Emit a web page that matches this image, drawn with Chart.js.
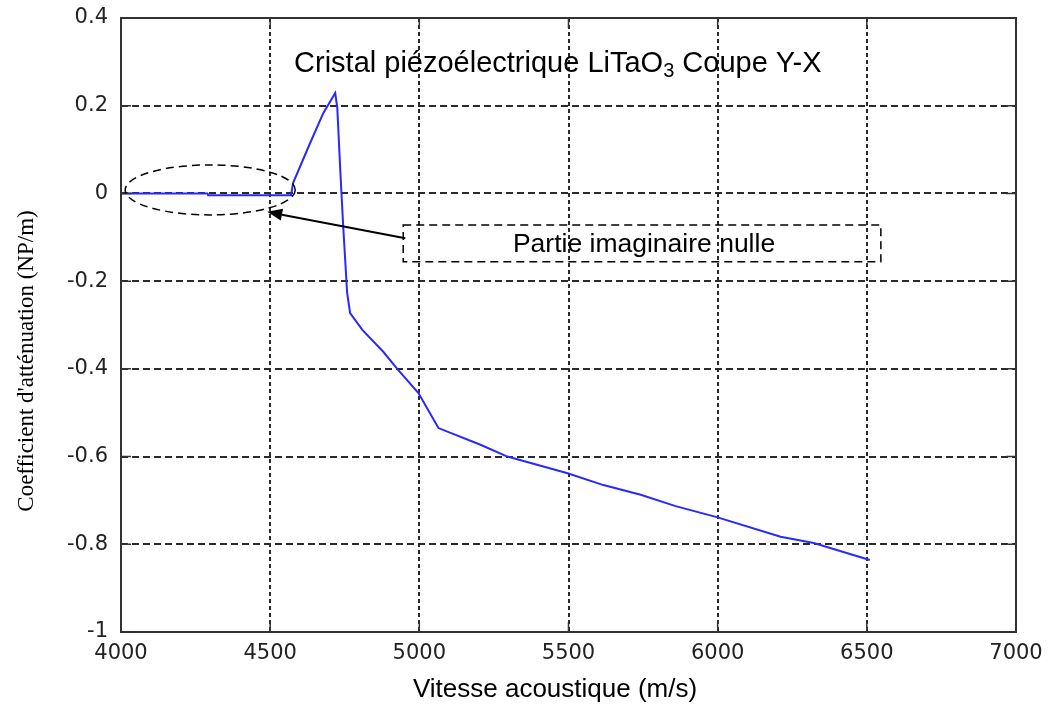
<!DOCTYPE html>
<html>
<head>
<meta charset="utf-8">
<script src="https://cdn.jsdelivr.net/npm/chart.js@4"></script>
<style>
  body { margin: 0; background: #fff; }
  canvas { display: block; }
</style>
</head>
<body>
<canvas id="chart" width="1049" height="708"></canvas>
<script>
// vitesse (m/s) -> coefficient d'atténuation (NP/m)
const speeds = [4000, 4290, 4292, 4570, 4577, 4634, 4678, 4718, 4725, 4735, 4745, 4758, 4768,
  4809, 4879, 4926, 4997, 5064, 5205, 5295, 5497, 5617, 5742, 5859, 5997, 6211, 6322, 6510];
const attenuation = [0, 0, -0.004, -0.004, 0.024, 0.115, 0.183, 0.229, 0.195, 0.053, -0.077, -0.227, -0.273,
  -0.311, -0.361, -0.40, -0.455, -0.535, -0.573, -0.60, -0.638, -0.665, -0.687, -0.713, -0.738, -0.783, -0.797, -0.836];

const xTicks = [4000, 4500, 5000, 5500, 6000, 6500, 7000];
const yTicks = [0.4, 0.2, 0, -0.2, -0.4, -0.6, -0.8, -1];

const xTitle = 'Vitesse acoustique (m/s)';
const yTitle = "Coefficient d'atténuation (NP/m)";

const points = speeds.map((x, i) => ({ x: x, y: attenuation[i] }));

// annotation placement in data units
const ellipseNote = { cx: 4299, cy: 0.008, rx: 285, ry: 0.057 };
const boxNote = { x0: 4946, x1: 6547, y0: -0.072, y1: -0.156, text: 'Partie imaginaire nulle' };
const arrowNote = { from: [4953, -0.102], to: [4490, -0.042] };
const titleNote = { x: 4580, y: 0.276 };

const GRID = '#2a2a2a';

const frame = {
  id: 'frame',
  afterDatasetsDraw(chart) {
    const { ctx, chartArea: a, scales: { x, y } } = chart;
    ctx.save();
    ctx.strokeStyle = '#333';
    ctx.lineWidth = 2;
    ctx.setLineDash([]);
    ctx.strokeRect(a.left, a.top, a.right - a.left, a.bottom - a.top);
    // inward tick marks, all four sides
    const len = 10;
    ctx.lineWidth = 1.5;
    ctx.beginPath();
    xTicks.forEach(v => {
      const px = x.getPixelForValue(v);
      ctx.moveTo(px, a.bottom); ctx.lineTo(px, a.bottom - len);
      ctx.moveTo(px, a.top); ctx.lineTo(px, a.top + len);
    });
    yTicks.forEach(v => {
      const py = y.getPixelForValue(v);
      ctx.moveTo(a.left, py); ctx.lineTo(a.left + len, py);
      ctx.moveTo(a.right, py); ctx.lineTo(a.right - len, py);
    });
    ctx.stroke();

    // dashed ellipse round the flat part
    ctx.strokeStyle = '#000';
    ctx.lineWidth = 1.5;
    ctx.setLineDash([8, 5]);
    const ecx = x.getPixelForValue(ellipseNote.cx), ecy = y.getPixelForValue(ellipseNote.cy);
    const erx = x.getPixelForValue(ellipseNote.cx + ellipseNote.rx) - ecx;
    const ery = ecy - y.getPixelForValue(ellipseNote.cy + ellipseNote.ry);
    ctx.beginPath();
    ctx.ellipse(ecx, ecy, erx, ery, 0, 0, Math.PI * 2);
    ctx.stroke();

    // dashed text box
    const bx0 = x.getPixelForValue(boxNote.x0), bx1 = x.getPixelForValue(boxNote.x1);
    const by0 = y.getPixelForValue(boxNote.y0), by1 = y.getPixelForValue(boxNote.y1);
    ctx.strokeRect(bx0, by0, bx1 - bx0, by1 - by0);
    ctx.setLineDash([]);
    ctx.fillStyle = '#000';
    ctx.font = '26.5px "Liberation Sans", Arial, sans-serif';
    ctx.textAlign = 'center';
    ctx.textBaseline = 'middle';
    ctx.fillText(boxNote.text, (bx0 + bx1) / 2 + 2, (by0 + by1) / 2 + 1);

    // arrow
    const ax0 = x.getPixelForValue(arrowNote.from[0]), ay0 = y.getPixelForValue(arrowNote.from[1]);
    const ax1 = x.getPixelForValue(arrowNote.to[0]), ay1 = y.getPixelForValue(arrowNote.to[1]);
    const ang = Math.atan2(ay1 - ay0, ax1 - ax0);
    const hl = 15, hw = 6;
    const bxh = ax1 - hl * Math.cos(ang), byh = ay1 - hl * Math.sin(ang);
    ctx.lineWidth = 2;
    ctx.beginPath();
    ctx.moveTo(ax0, ay0); ctx.lineTo(bxh, byh);
    ctx.stroke();
    ctx.beginPath();
    ctx.moveTo(ax1, ay1);
    ctx.lineTo(bxh + hw * Math.sin(ang), byh - hw * Math.cos(ang));
    ctx.lineTo(bxh - hw * Math.sin(ang), byh + hw * Math.cos(ang));
    ctx.closePath();
    ctx.fill();

    // title inside the axes, with subscript 3
    let tx = x.getPixelForValue(titleNote.x);
    const ty = y.getPixelForValue(titleNote.y);
    ctx.textAlign = 'left';
    ctx.textBaseline = 'alphabetic';
    ctx.font = '29px "Liberation Sans", Arial, sans-serif';
    const t1 = 'Cristal piézoélectrique LiTaO';
    ctx.fillText(t1, tx, ty);
    tx += ctx.measureText(t1).width;
    ctx.font = '20px "Liberation Sans", Arial, sans-serif';
    ctx.fillText('3', tx, ty + 5);
    tx += ctx.measureText('3').width;
    ctx.font = '29px "Liberation Sans", Arial, sans-serif';
    ctx.fillText(' Coupe Y-X', tx, ty);

    // axis titles
    ctx.textAlign = 'center';
    ctx.textBaseline = 'middle';
    ctx.font = '26px "Liberation Sans", Arial, sans-serif';
    ctx.fillText(xTitle, 555, 690);
    ctx.translate(27, 361);
    ctx.rotate(-Math.PI / 2);
    ctx.font = '23px "Liberation Serif", "Times New Roman", serif';
    ctx.fillText(yTitle, 0, 0);
    ctx.restore();
  }
};

new Chart(document.getElementById('chart'), {
  type: 'line',
  data: {
    datasets: [{
      data: points,
      borderColor: 'rgb(40,40,255)',
      borderWidth: 2,
      pointRadius: 0,
      tension: 0,
      fill: false
    }]
  },
  options: {
    responsive: false,
    animation: false,
    layout: { padding: { top: 18, right: 33, left: 0, bottom: 0 } },
    plugins: { legend: { display: false }, tooltip: { enabled: false } },
    scales: {
      x: {
        type: 'linear',
        min: 4000, max: 7000,
        afterBuildTicks: s => { s.ticks = xTicks.map(v => ({ value: v })); },
        afterFit: s => { s.height = 76; s.paddingLeft = 0; s.paddingRight = 0; },
        ticks: {
          padding: 9,
          color: '#222',
          font: { family: '"DejaVu Sans", sans-serif', size: 21 },
          callback: v => String(v)
        },
        grid: { color: GRID, lineWidth: 2, drawTicks: false },
        border: { display: false, dash: [4, 3] }
      },
      y: {
        type: 'linear',
        min: -1, max: 0.4,
        afterBuildTicks: s => { s.ticks = yTicks.map(v => ({ value: v })); },
        afterFit: s => { s.width = 121; s.paddingTop = 0; s.paddingBottom = 0; },
        ticks: {
          padding: 13,
          color: '#222',
          font: { family: '"DejaVu Sans", sans-serif', size: 21 },
          callback: v => String(Number(v.toFixed(1)))
        },
        grid: { color: GRID, lineWidth: 2, drawTicks: false },
        border: { display: false, dash: [7, 4] }
      }
    }
  },
  plugins: [frame]
});
</script>
</body>
</html>
